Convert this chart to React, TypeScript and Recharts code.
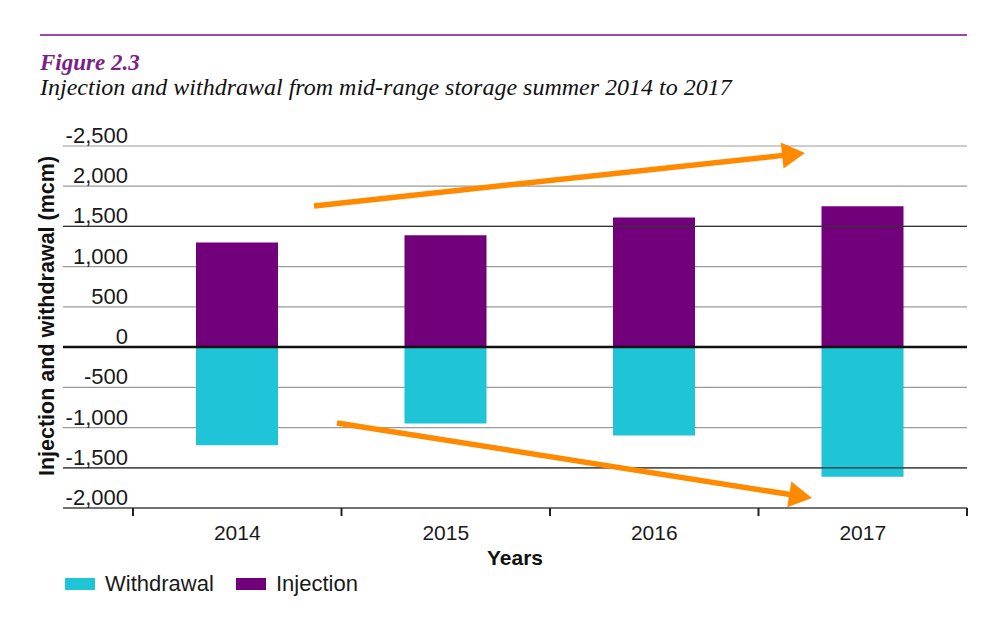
import React from 'react';
import { BarChart, Bar, XAxis, YAxis, CartesianGrid, ReferenceLine } from 'recharts';

const years = ['2014', '2015', '2016', '2017'];
const injection = [1300, 1390, 1610, 1750];
const withdrawal = [-1220, -950, -1100, -1610];

const yTicks = [-2000, -1500, -1000, -500, 0, 500, 1000, 1500, 2000, 2500];
// the source labels the top tick "-2,500", kept as printed
const yTickLabels = ['-2,000', '-1,500', '-1,000', '-500', '0', '500', '1,000', '1,500', '2,000', '-2,500'];

const data = years.map((year, i) => ({ year, injection: injection[i], withdrawal: withdrawal[i] }));

const PURPLE = '#72007A';
const CYAN = '#1FC4D6';
const ORANGE = '#FF8A00';
const SANS = '"Liberation Sans", Arial, Helvetica, sans-serif';
const SERIF = '"Liberation Serif", "Times New Roman", serif';

const W = 1007;
const H = 621;
const PLOT_LEFT = 63;
const PLOT_RIGHT = 967;
const PLOT_TOP = 146;
const PLOT_BOTTOM = 508;
const X_PAD = 70;
const BAND = (PLOT_RIGHT - PLOT_LEFT - X_PAD) / years.length;

const YTick = (props: any) => {
  const { y, payload } = props;
  const idx = yTicks.indexOf(payload.value);
  return (
    <text x={128} y={y - 3} textAnchor="end" fontSize={22} fontFamily={SANS} fill="#1a1a1a">
      {yTickLabels[idx]}
    </text>
  );
};

const XTick = (props: any) => {
  const { x, y, payload, index } = props;
  const left = x - BAND / 2;
  const right = x + BAND / 2;
  return (
    <g>
      <line x1={left} x2={left} y1={y - 8} y2={y} stroke="#222" strokeWidth={2} />
      {index === years.length - 1 && (
        <line x1={right} x2={right} y1={y - 8} y2={y} stroke="#222" strokeWidth={2} />
      )}
      <text x={x} y={y + 24} textAnchor="middle" fontSize={21} fontFamily={SANS} fill="#1a1a1a">
        {payload.value}
      </text>
    </g>
  );
};

// annotation arrows: [x1, y1, tipX, tipY]
const arrows = [
  [314, 206, 805, 153],
  [337, 423, 812, 498],
];

const Arrow = ({ a }: { a: number[] }) => {
  const [x1, y1, x2, y2] = a;
  const len = Math.hypot(x2 - x1, y2 - y1);
  const ux = (x2 - x1) / len;
  const uy = (y2 - y1) / len;
  const bx = x2 - 23 * ux;
  const by = y2 - 23 * uy;
  const nx = -uy;
  const ny = ux;
  const pts = `${x2},${y2} ${bx + 13 * nx},${by + 13 * ny} ${bx - 13 * nx},${by - 13 * ny}`;
  return (
    <g>
      <line x1={x1} y1={y1} x2={bx + ux} y2={by + uy} stroke={ORANGE} strokeWidth={5.5} />
      <polygon points={pts} fill={ORANGE} />
    </g>
  );
};

const LegendItem = ({ color, label, left }: { color: string; label: string; left: number }) => (
  <div style={{ position: 'absolute', left, top: 571, display: 'flex', alignItems: 'center' }}>
    <div style={{ width: 30, height: 12, background: color, marginRight: 10 }} />
    <span style={{ fontSize: 22, fontFamily: SANS, color: '#1a1a1a' }}>{label}</span>
  </div>
);

export default function App() {
  return (
    <div style={{ position: 'absolute', left: 0, top: 0, width: W, height: H, background: '#fff', overflow: 'hidden' }}>
      <div style={{ position: 'absolute', left: 40, top: 34, width: PLOT_RIGHT - 40, height: 2, background: '#9C4AA9' }} />
      <div
        style={{
          position: 'absolute', left: 40, top: 50, fontFamily: SERIF, fontStyle: 'italic', fontWeight: 'bold',
          fontSize: 23, color: '#7D2285', whiteSpace: 'nowrap',
        }}
      >
        Figure 2.3
      </div>
      <div
        style={{
          position: 'absolute', left: 40, top: 74, fontFamily: SERIF, fontStyle: 'italic',
          fontSize: 24, color: '#111', whiteSpace: 'nowrap',
        }}
      >
        Injection and withdrawal from mid-range storage summer 2014 to 2017
      </div>

      <div style={{ position: 'absolute', left: 0, top: 0 }}>
        <BarChart
          width={W}
          height={H}
          data={data}
          stackOffset="sign"
          margin={{ top: PLOT_TOP, right: W - PLOT_RIGHT, bottom: H - PLOT_BOTTOM - 60, left: 0 }}
        >
          <CartesianGrid vertical={false} stroke="#9a9a9a" strokeWidth={1.2} />
          <XAxis
            dataKey="year"
            height={60}
            padding={{ left: X_PAD, right: 0 }}
            axisLine={{ stroke: '#555', strokeWidth: 1.5 }}
            tickLine={false}
            tickSize={8}
            tickMargin={0}
            tick={<XTick />}
            label={{ value: 'Years', position: 'insideBottom', offset: 3, fontSize: 21, fontWeight: 'bold', fill: '#111', fontFamily: SANS }}
          />
          <YAxis
            width={PLOT_LEFT}
            domain={[-2000, 2500]}
            ticks={yTicks}
            axisLine={false}
            tickLine={false}
            tickSize={0}
            tickMargin={0}
            tick={<YTick />}
            interval={0}
          />
          <Bar dataKey="withdrawal" stackId="a" fill={CYAN} barSize={82} isAnimationActive={false} />
          <Bar dataKey="injection" stackId="a" fill={PURPLE} barSize={82} isAnimationActive={false} />
          <ReferenceLine y={1500} stroke="#333" strokeWidth={1.2} />
          <ReferenceLine y={-1500} stroke="#333" strokeWidth={1.2} />
          <ReferenceLine y={0} stroke="#111" strokeWidth={2.5} />
        </BarChart>
      </div>

      <svg width={W} height={H} style={{ position: 'absolute', left: 0, top: 0, pointerEvents: 'none' }}>
        <text
          x={47}
          y={316}
          transform="rotate(-90 47 316)"
          textAnchor="middle"
          dominantBaseline="central"
          fontSize={21.5}
          fontWeight="bold"
          fontFamily={SANS}
          fill="#111"
        >
          Injection and withdrawal (mcm)
        </text>
        {arrows.map((a, i) => (
          <Arrow key={i} a={a} />
        ))}
      </svg>

      <LegendItem color={CYAN} label="Withdrawal" left={65} />
      <LegendItem color={PURPLE} label="Injection" left={236} />
    </div>
  );
}
